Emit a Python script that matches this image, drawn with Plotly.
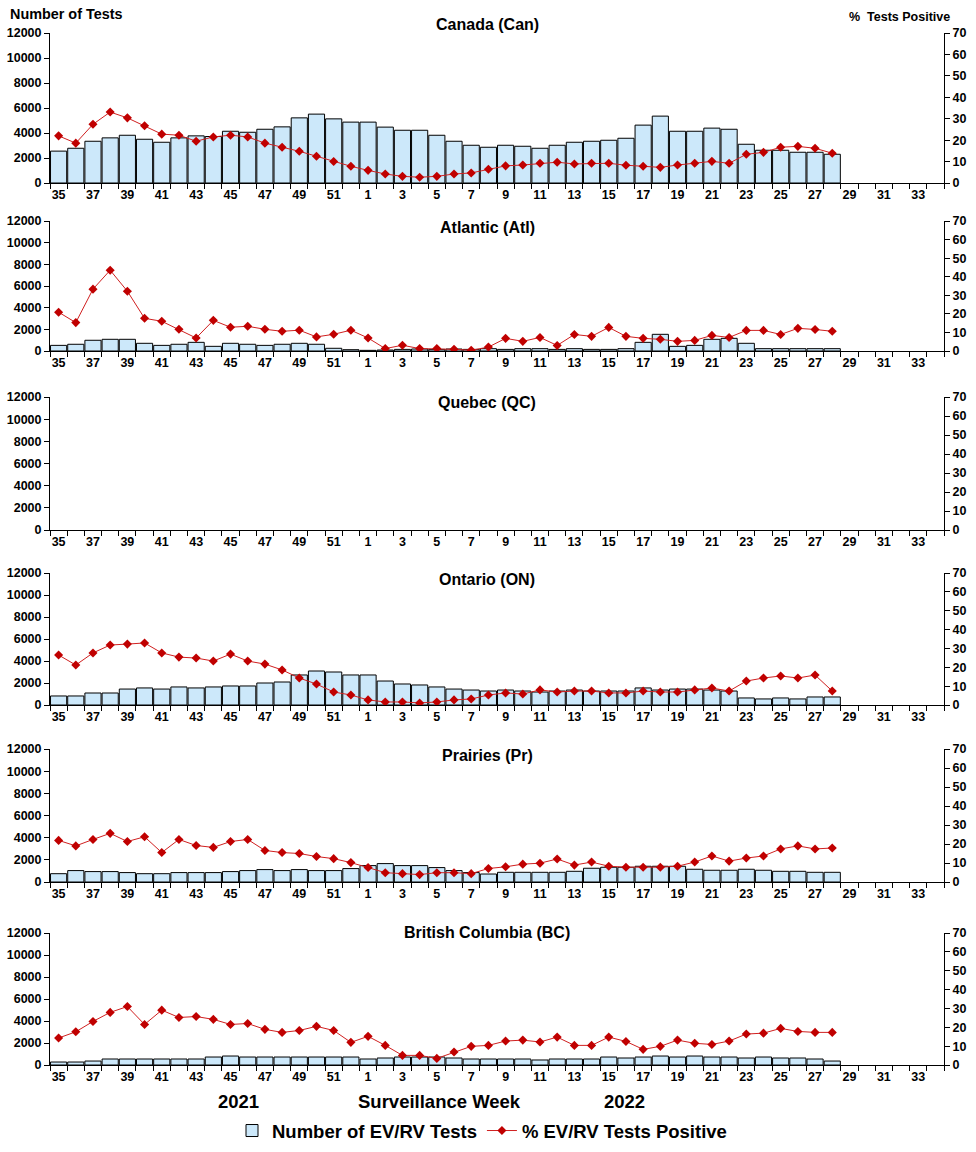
import plotly.graph_objects as go

weeks = [str(w) for w in list(range(35, 53)) + list(range(1, 35))]
tick_labels = [w if i % 2 == 0 else "" for i, w in enumerate(weeks)]

regions = ["Canada (Can)", "Atlantic (Atl)", "Quebec (QC)", "Ontario (ON)", "Prairies (Pr)", "British Columbia (BC)"]

can_tests = [2550, 2780, 3340, 3610, 3820, 3500, 3260, 3610, 3770, 3720, 4140, 4060, 4300, 4490, 5210, 5510, 5130, 4870,
             4870, 4470, 4220, 4220, 3820, 3340, 3020, 2860, 3020, 2940, 2780, 3020, 3260, 3340, 3420, 3580,
             4630, 5350, 4140, 4140, 4390, 4300, 3100, 2620, 2620, 2460, 2460, 2300]
can_pct = [22.0, 18.6, 27.4, 33.1, 30.4, 26.7, 22.8, 22.3, 19.5, 21.5, 22.3, 21.5, 18.6, 16.7, 14.8, 12.5, 10.0, 7.8,
           5.9, 4.2, 3.1, 2.7, 3.1, 4.2, 4.7, 6.4, 8.0, 8.4, 9.2, 9.7, 8.9, 9.2, 9.2, 8.3,
           7.8, 7.3, 8.4, 9.2, 10.1, 9.2, 13.4, 14.3, 16.7, 17.1, 16.2, 13.9]

atl_tests = [520, 620, 990, 1080, 1080, 710, 520, 620, 800, 430, 710, 620, 520, 620, 710, 620, 250, 120,
             60, 90, 150, 185, 150, 185, 150, 215, 150, 215, 215, 150, 215, 150, 150, 215,
             800, 1540, 430, 520, 1080, 1170, 710, 215, 215, 215, 215, 215]
atl_pct = [20.9, 15.3, 33.3, 43.5, 32.2, 17.6, 16.0, 11.7, 7.0, 16.5, 12.8, 13.3, 11.7, 10.6, 11.2, 7.6, 9.0, 11.2,
           7.0, 1.3, 3.1, 1.3, 1.3, 0.9, 0.4, 2.1, 6.8, 5.2, 7.3, 3.0, 8.9, 7.9, 12.7, 7.9,
           6.8, 6.3, 5.2, 5.7, 8.4, 7.3, 11.1, 11.1, 8.9, 12.2, 11.6, 10.6]

qc_tests = []
qc_pct = []

on_tests = [820, 820, 1090, 1090, 1450, 1550, 1450, 1640, 1550, 1640, 1730, 1730, 2000, 2090, 2730, 3090, 3000, 2730,
            2730, 2180, 1910, 1820, 1640, 1450, 1360, 1270, 1360, 1270, 1180, 1270, 1360, 1270, 1270, 1270,
            1550, 1360, 1450, 1450, 1360, 1270, 640, 550, 640, 550, 730, 730]
on_pct = [26.5, 21.2, 27.6, 31.8, 32.3, 32.9, 27.6, 25.4, 24.9, 23.3, 27.0, 23.3, 21.7, 18.6, 14.3, 11.1, 6.9, 5.3,
          2.7, 1.6, 1.6, 1.1, 1.6, 2.7, 3.2, 5.3, 6.4, 5.8, 8.0, 6.9, 7.4, 7.4, 6.4, 6.4,
          7.4, 6.9, 6.9, 8.0, 9.0, 7.4, 12.7, 14.3, 15.4, 14.3, 15.9, 7.4]

pr_tests = [750, 1030, 940, 940, 850, 750, 750, 850, 850, 850, 940, 1030, 1120, 1030, 1120, 1030, 1030, 1210,
            1480, 1660, 1480, 1480, 1300, 1030, 850, 720, 875, 875, 875, 875, 965, 1240, 1330, 1330,
            1420, 1420, 1420, 1150, 1060, 1060, 1150, 1060, 965, 965, 875, 875]
pr_pct = [21.9, 19.0, 22.4, 25.6, 21.3, 23.8, 15.5, 22.4, 19.2, 18.2, 21.3, 22.4, 16.6, 15.5, 15.0, 13.4, 12.3, 10.2,
          7.6, 4.9, 4.4, 3.9, 4.9, 4.9, 4.4, 7.1, 8.0, 9.4, 9.9, 12.1, 8.9, 10.5, 8.3, 7.8,
          7.8, 7.8, 8.3, 10.5, 13.7, 11.0, 12.6, 13.7, 17.4, 19.0, 17.4, 17.9]

bc_tests = [270, 270, 360, 545, 545, 545, 545, 545, 545, 725, 815, 725, 725, 725, 725, 725, 725, 725,
            545, 635, 725, 725, 725, 635, 545, 545, 545, 545, 455, 545, 545, 545, 725, 635,
            725, 815, 725, 815, 725, 725, 635, 725, 635, 635, 545, 360]
bc_pct = [14.3, 17.6, 23.1, 27.9, 31.0, 21.5, 29.1, 25.2, 25.7, 24.2, 21.5, 22.0, 18.9, 17.3, 18.3, 20.5, 18.3, 12.0,
          15.2, 10.4, 5.1, 5.1, 3.5, 6.9, 9.9, 10.4, 12.7, 13.2, 12.2, 14.8, 10.4, 10.4, 14.8, 12.5,
          8.3, 9.9, 13.2, 11.5, 10.9, 12.7, 16.4, 16.9, 19.4, 17.8, 17.3, 17.3]

tests = [can_tests, atl_tests, qc_tests, on_tests, pr_tests, bc_tests]
pcts = [can_pct, atl_pct, qc_pct, on_pct, pr_pct, bc_pct]

W, H = 976, 1152
L, R = 50, 32
PW = W - L - R
# panel pixel extents (top, bottom) of plotting area
panels_px = [(33, 183), (221, 351), (397, 530), (573, 705), (749, 882), (933, 1065)]
title_px = [24, 227, 403, 579, 755, 932]

FONT = "Liberation Sans, Arial, sans-serif"
BAR_FILL = "#CCE8FA"
RED = "#C00000"


def px_x(x):
    return (x - L) / PW


def px_y(y):
    return 1 - y / H


fig = go.Figure()
layout = dict(
    width=W, height=H, autosize=False,
    margin=dict(l=L, r=R, t=0, b=0, pad=0, autoexpand=False),
    paper_bgcolor="white", plot_bgcolor="white",
    bargap=0.06,
    font=dict(family=FONT, color="black"),
    showlegend=True,
    legend=dict(orientation="h", x=px_x(482), xanchor="center", y=px_y(1131), yanchor="middle",
                font=dict(size=18.5, family=FONT, weight="bold"), itemwidth=30, tracegroupgap=0,
                bgcolor="rgba(0,0,0,0)"),
)
annotations = []
tickfont = dict(size=12.5, family=FONT, weight="bold")

for i in range(6):
    n = i + 1
    xa = "x" if n == 1 else f"x{n}"
    ya1 = f"y{2 * n - 1}" if n > 1 else "y"
    ya2 = f"y{2 * n}"
    top, bot = panels_px[i]
    dom = [px_y(bot), px_y(top)]
    layout[f"xaxis{'' if n == 1 else n}"] = dict(
        domain=[0, 1], anchor=ya1, type="category",
        categoryorder="array", categoryarray=weeks,
        range=[-0.5, len(weeks) - 0.5],
        tickmode="array", tickvals=weeks, ticktext=tick_labels, tickangle=0,
        tickson="boundaries", ticks="outside", ticklen=5, tickcolor="black", tickwidth=1,
        showline=True, linecolor="black", linewidth=1, showgrid=False, zeroline=False,
        tickfont=tickfont, automargin=False, fixedrange=True,
    )
    layout[f"yaxis{'' if n == 1 else 2 * n - 1}"] = dict(
        domain=dom, anchor=xa, range=[0, 12000], tickmode="linear", tick0=0, dtick=2000, tickformat="d",
        ticks="outside", ticklen=5, tickcolor="black", showline=True, linecolor="black", linewidth=1,
        showgrid=False, zeroline=False, tickfont=tickfont, automargin=False, fixedrange=True,
    )
    layout[f"yaxis{2 * n}"] = dict(
        overlaying=ya1, side="right", anchor=xa, range=[0, 70], tickmode="linear", tick0=0, dtick=10,
        ticks="outside", ticklen=5, tickcolor="black", showline=True, linecolor="black", linewidth=1,
        showgrid=False, zeroline=False, tickfont=tickfont, automargin=False, fixedrange=True,
    )
    t = tests[i]
    p = pcts[i]
    fig.add_trace(go.Bar(
        x=weeks[:len(t)] if t else weeks, y=t if t else [None] * len(weeks),
        xaxis=xa, yaxis=ya1, name="Number of EV/RV Tests",
        marker=dict(color=BAR_FILL, line=dict(color="black", width=1)),
        showlegend=(i == 0), legendrank=1,
    ))
    fig.add_trace(go.Scatter(
        x=weeks[:len(p)], y=p, xaxis=xa, yaxis=ya2, name="% EV/RV Tests Positive",
        mode="lines+markers", line=dict(color="#D02020", width=1),
        marker=dict(symbol="diamond", size=7, color=RED),
        showlegend=(i == 0), legendrank=2,
    ))
    annotations.append(dict(text=regions[i], x=px_x(487), y=px_y(title_px[i]), xref="paper", yref="paper",
                            xanchor="center", yanchor="middle", showarrow=False,
                            font=dict(size=16, family=FONT, weight="bold")))

annotations += [
    dict(text="Number of Tests", x=px_x(8), y=px_y(14), xref="paper", yref="paper",
         xanchor="left", yanchor="middle", showarrow=False, font=dict(size=14.4, family=FONT, weight="bold")),
    dict(text="%&nbsp;&nbsp;Tests Positive", x=px_x(952), y=px_y(17), xref="paper", yref="paper",
         xanchor="right", yanchor="middle", showarrow=False, font=dict(size=12.5, family=FONT, weight="bold")),
    dict(text="2021", x=px_x(238), y=px_y(1101), xref="paper", yref="paper",
         xanchor="center", yanchor="middle", showarrow=False, font=dict(size=18.5, family=FONT, weight="bold")),
    dict(text="Surveillance Week", x=px_x(439), y=px_y(1101), xref="paper", yref="paper",
         xanchor="center", yanchor="middle", showarrow=False, font=dict(size=18.5, family=FONT, weight="bold")),
    dict(text="2022", x=px_x(624), y=px_y(1101), xref="paper", yref="paper",
         xanchor="center", yanchor="middle", showarrow=False, font=dict(size=18.5, family=FONT, weight="bold")),
]
layout["annotations"] = annotations
fig.update_layout(**layout)
fig.write_html(
    "out.html",
    config={"displayModeBar": False, "responsive": False},
    post_script="document.body.style.margin='0';document.body.style.overflow='hidden';",
)
